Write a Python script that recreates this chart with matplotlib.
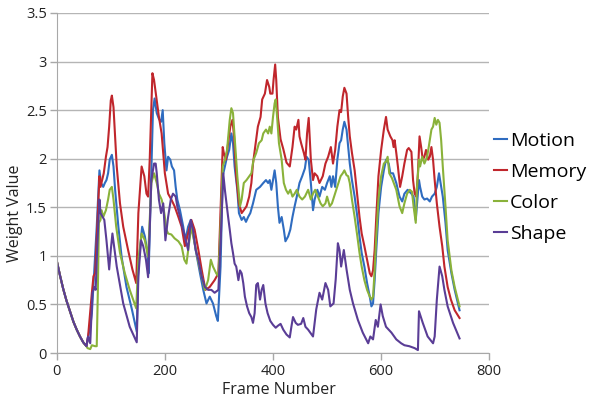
import numpy as np
import matplotlib.pyplot as plt

plt.rcParams['font.family'] = ['Open Sans', 'DejaVu Sans']

# shared start: all four series decay together from frame 0
start_frames = [0, 6, 12, 18, 25, 31, 37, 43, 49, 55]
start_values = [0.95, 0.80, 0.66, 0.54, 0.42, 0.32, 0.24, 0.17, 0.11, 0.07]

motion_frames = [58, 62, 65, 74, 79, 82, 86, 89, 92, 95, 98, 102, 105, 108, 114, 120, 129, 139, 148,
                 151, 158, 163, 168, 170, 174, 178, 181, 185, 189, 193, 196, 199, 203, 206, 210, 213,
                 217, 220, 223, 228, 234, 238, 243, 248, 252, 258, 265, 271, 277, 283, 289, 295, 298,
                 303, 307, 311, 315, 319, 323, 326, 329, 334, 337, 342, 346, 350, 354, 358, 363, 369,
                 376, 382, 387, 391, 394, 397, 400, 403, 406, 409, 412, 416, 420, 423, 428, 432, 436,
                 440, 444, 449, 454, 459, 462, 466, 470, 474, 477, 482, 486, 491, 496, 500, 505, 508,
                 511, 515, 519, 523, 526, 529, 532, 536, 539, 542, 546, 551, 556, 560, 564, 569, 574,
                 579, 582, 585, 588, 591, 595, 600, 605, 609, 614, 617, 622, 628, 634, 639, 643, 649,
                 656, 660, 664, 666, 670, 672, 676, 680, 685, 690, 694, 699, 703, 707, 710, 714, 719,
                 723, 730, 736, 745]
motion_values = [0.17, 0.27, 0.41, 1.30, 1.88, 1.75, 1.71, 1.75, 1.78, 1.85, 1.99, 2.04, 1.92, 1.68,
                 1.30, 0.99, 0.68, 0.45, 0.22,
                 0.89, 1.30, 1.20, 1.03, 0.82, 1.64, 2.50, 2.62, 2.47, 2.41, 2.38, 2.50, 2.16, 1.88,
                 2.02, 1.99, 1.92, 1.88, 1.71, 1.58, 1.47, 1.30, 1.16, 1.30, 1.37, 1.23, 1.03, 0.82,
                 0.65, 0.51, 0.58, 0.51, 0.38, 0.33,
                 0.89, 1.82, 1.92, 2.02, 2.09, 2.26, 2.16, 1.92, 1.68, 1.44, 1.37, 1.40, 1.35, 1.40,
                 1.44, 1.54, 1.68, 1.71, 1.75, 1.78, 1.75, 1.78, 1.68, 1.78, 1.88, 1.75, 1.51, 1.34,
                 1.40, 1.27, 1.15, 1.20, 1.27, 1.40, 1.51, 1.61, 1.75, 1.82, 1.90, 2.02, 1.99, 1.75,
                 1.47, 1.58, 1.68, 1.61, 1.71, 1.68, 1.75, 1.82, 1.71, 1.82, 1.71, 1.99, 2.16, 2.19,
                 2.30, 2.38, 2.30, 2.12, 1.95, 1.78, 1.61, 1.40, 1.20, 1.03, 0.89, 0.72, 0.58, 0.48,
                 0.51, 0.75, 1.06, 1.44, 1.71, 1.88, 1.99, 1.95, 1.85, 1.85, 1.75, 1.61, 1.56, 1.64,
                 1.68, 1.64, 1.61, 1.37, 1.51, 1.78, 1.71, 1.61, 1.58, 1.59, 1.56, 1.61, 1.64, 1.71,
                 1.85, 1.75, 1.61, 1.34, 1.06, 0.82, 0.65, 0.44]

memory_frames = [58, 65, 68, 71, 75, 79, 81, 84, 87, 91, 94, 97, 100, 102, 105, 108, 111, 117, 123,
                 132, 140, 147, 151, 157, 162, 166, 169, 172, 177, 180, 185, 189, 194, 200, 206, 212,
                 218, 225, 231, 237, 243, 249, 255, 262, 268, 275, 283, 292, 299, 303, 307, 309, 313,
                 317, 321, 325, 328, 332, 337, 342, 346, 351, 356, 360, 363, 368, 372, 377, 380, 385,
                 389, 393, 395, 399, 401, 404, 406, 409, 414, 419, 425, 431, 436, 440, 443, 447, 449,
                 452, 457, 460, 463, 466, 470, 474, 477, 482, 486, 492, 497, 502, 507, 511, 515, 519,
                 523, 526, 529, 532, 536, 539, 542, 546, 551, 556, 560, 564, 569, 574, 579, 582, 585,
                 588, 591, 595, 600, 605, 609, 612, 617, 621, 623, 625, 628, 631, 635, 639, 643, 648,
                 651, 656, 659, 662, 665, 668, 671, 674, 677, 680, 683, 687, 690, 693, 696, 699, 703,
                 708, 713, 717, 723, 729, 736, 745]
memory_values = [0.17, 0.62, 0.79, 0.82, 1.30, 1.82, 1.71, 1.78, 1.85, 2.02, 2.12, 2.33, 2.60, 2.65,
                 2.53, 2.23, 1.92, 1.54, 1.30, 1.06, 0.86, 0.72,
                 1.44, 1.92, 1.82, 1.64, 1.61, 1.99, 2.88, 2.81, 2.60, 2.43, 2.26, 1.85, 1.64, 1.58,
                 1.51, 1.40, 1.30, 1.10, 1.23, 1.37, 1.27, 1.06, 0.86, 0.65, 0.68, 0.75, 0.82,
                 1.47, 2.12, 2.06, 1.99, 2.16, 2.33, 2.40, 2.23, 1.82, 1.54, 1.44, 1.47, 1.51, 1.61,
                 1.75, 1.95, 2.16, 2.33, 2.43, 2.61, 2.67, 2.81, 2.74, 2.67, 2.67, 2.81, 2.97, 2.81,
                 2.43, 2.20, 2.10, 1.96, 1.92, 2.12, 2.33, 2.30, 2.40, 2.23, 2.16, 2.06, 1.99, 2.26,
                 2.42, 1.99, 1.78, 1.85, 1.82, 1.75, 1.82, 1.95, 2.02, 2.12, 1.95, 2.09, 2.33, 2.50,
                 2.48, 2.64, 2.73, 2.67, 2.43, 2.23, 2.06, 1.88, 1.61, 1.40, 1.23, 1.10, 0.96, 0.82,
                 0.79, 0.85, 1.06, 1.40, 1.82, 2.09, 2.30, 2.43, 2.30, 2.23, 2.19, 2.12, 2.19, 2.06,
                 1.92, 1.71, 1.82, 1.95, 2.09, 2.11, 2.07, 1.78, 1.64, 1.61, 1.85, 2.23, 2.12, 1.99,
                 2.02, 2.09, 1.99, 2.02, 2.12, 1.99, 1.78, 1.54, 1.30, 1.10, 0.89, 0.68, 0.55, 0.44,
                 0.36]

color_frames = [57, 62, 65, 71, 74, 76, 78, 81, 83, 86, 91, 95, 98, 102, 105, 110, 117, 126, 135, 147,
                151, 157, 163, 169, 175, 180, 185, 189, 194, 197, 200, 203, 206, 212, 218, 225, 231,
                236, 240, 244, 249, 254, 261, 268, 274, 280, 285, 289, 295, 299, 303, 307, 311, 315,
                320, 323, 326, 329, 334, 339, 342, 346, 351, 356, 360, 364, 369, 374, 379, 382, 387,
                391, 394, 397, 400, 403, 405, 408, 411, 416, 420, 424, 428, 432, 436, 440, 444, 449,
                454, 459, 465, 470, 474, 478, 483, 488, 492, 497, 500, 505, 509, 513, 517, 521, 525,
                529, 532, 536, 539, 542, 546, 551, 556, 560, 564, 569, 574, 579, 582, 585, 588, 591,
                595, 600, 605, 609, 612, 615, 620, 628, 634, 639, 643, 648, 653, 657, 660, 664, 666,
                670, 672, 676, 680, 685, 688, 693, 696, 699, 702, 705, 708, 711, 714, 719, 723, 730,
                736, 745]
color_values = [0.05, 0.04, 0.08, 0.07, 0.07, 0.62, 1.34, 1.37, 1.47, 1.40, 1.47, 1.58, 1.68, 1.71,
                1.58, 1.30, 1.03, 0.82, 0.65, 0.46,
                0.96, 1.23, 1.16, 0.99, 1.75, 1.85, 1.75, 1.64, 1.58, 1.51, 1.40, 1.27, 1.23, 1.22,
                1.18, 1.15, 1.10, 0.96, 0.92, 1.10, 1.30, 1.16, 0.96, 0.79, 0.65, 0.75, 0.96, 0.89,
                0.82, 0.79,
                1.30, 1.92, 1.99, 2.09, 2.40, 2.52, 2.47, 2.23, 1.82, 1.51, 1.58, 1.75, 1.78, 1.82,
                1.85, 1.99, 2.06, 2.16, 2.19, 2.26, 2.30, 2.26, 2.33, 2.26, 2.43, 2.57, 2.61, 2.40,
                2.16, 1.99, 1.75, 1.68, 1.64, 1.68, 1.61, 1.64, 1.68, 1.61, 1.58, 1.61, 1.68, 1.58,
                1.64, 1.68, 1.61, 1.54, 1.51, 1.54, 1.61, 1.51, 1.54, 1.61, 1.68, 1.75, 1.82, 1.85,
                1.88, 1.83, 1.82, 1.75, 1.58, 1.40, 1.20, 1.03, 0.89, 0.75, 0.65, 0.58, 0.55, 0.58,
                0.85, 1.20, 1.58, 1.82, 1.95, 1.97, 2.02, 1.85, 1.80, 1.68, 1.51, 1.44, 1.54, 1.64,
                1.68, 1.66, 1.51, 1.34, 1.68, 1.99, 1.92, 2.02, 1.95, 2.02, 2.12, 2.30, 2.33, 2.42,
                2.35, 2.40, 2.37, 2.19, 1.92, 1.51, 1.16, 0.85, 0.68, 0.48]

shape_frames = [58, 62, 66, 70, 72, 75, 79, 81, 85, 88, 92, 97, 100, 103, 111, 123, 135, 148,
                151, 156, 160, 165, 169, 175, 180, 183, 185, 189, 193, 197, 201, 206, 211, 215, 220,
                223, 228, 232, 237, 243, 248, 252, 257, 262, 268, 274, 280, 286, 292, 299,
                303, 308, 311, 314, 317, 320, 323, 326, 329, 332, 336, 339, 342, 345, 348, 352, 356,
                360, 363, 366, 369, 372, 376, 379, 382, 386, 390, 395, 400, 405, 409, 414, 419, 425,
                431, 434, 437, 442, 446, 452, 456, 460, 465, 474, 480, 486, 491, 497, 502, 506, 512,
                516, 520, 523, 526, 531, 536, 542, 548, 557, 566, 576, 580, 585, 590, 594, 599, 603,
                609, 619, 628, 637, 643, 652, 662, 668, 670, 677, 686, 696, 699, 703, 708, 713, 717,
                723, 733, 745]
shape_values = [0.17, 0.10, 0.62, 0.68, 0.65, 1.10, 1.58, 1.44, 1.40, 1.37, 1.16, 0.86, 1.06, 1.23,
                0.89, 0.51, 0.27, 0.11,
                0.79, 1.16, 1.10, 0.96, 0.78, 1.78, 1.95, 1.95, 1.85, 1.58, 1.44, 1.54, 1.16, 1.40,
                1.58, 1.64, 1.61, 1.51, 1.40, 1.30, 1.20, 1.06, 1.37, 1.27, 1.06, 0.96, 0.79, 0.68,
                0.65, 0.65, 0.62, 0.65,
                1.13, 1.85, 1.68, 1.54, 1.40, 1.27, 1.13, 1.03, 0.92, 0.89, 0.75, 0.85, 0.82, 0.72,
                0.58, 0.48, 0.41, 0.37, 0.31, 0.41, 0.70, 0.72, 0.55, 0.65, 0.70, 0.51, 0.41, 0.33,
                0.29, 0.26, 0.28, 0.30, 0.24, 0.19, 0.16, 0.27, 0.37, 0.31, 0.29, 0.30, 0.36, 0.27,
                0.24, 0.17, 0.45, 0.62, 0.55, 0.72, 0.65, 0.48, 0.51, 0.76, 1.13, 1.06, 0.89, 1.06,
                0.86, 0.65, 0.51, 0.34, 0.21, 0.10, 0.17, 0.14, 0.34, 0.27, 0.50, 0.38, 0.27, 0.21,
                0.14, 0.10, 0.08, 0.07, 0.05, 0.03, 0.43, 0.31, 0.17, 0.10, 0.17, 0.55, 0.89, 0.79,
                0.65, 0.48, 0.31, 0.15]

series = [
    ('Motion', motion_frames, motion_values, '#2f6cc0'),
    ('Memory', memory_frames, memory_values, '#c0262c'),
    ('Color', color_frames, color_values, '#8ab23a'),
    ('Shape', shape_frames, shape_values, '#5a3d96'),
]

fig = plt.figure(figsize=(5.89, 4.01), dpi=100)
ax = fig.add_axes([0.0963, 0.1197, 0.7344, 0.8479])

for name, fr, vals, col in series:
    x = np.array(start_frames + fr)
    y = np.array(start_values + vals)
    ax.plot(x, y, color=col, lw=1.5, label=name)

ax.set_xlim(0, 800)
ax.set_ylim(0, 3.5)
ax.set_xticks([0, 200, 400, 600, 800])
ax.set_yticks([0, 0.5, 1, 1.5, 2, 2.5, 3, 3.5])
ax.set_yticklabels(['0', '0.5', '1', '1.5', '2', '2.5', '3', '3.5'])
ax.yaxis.grid(True, color='#b5b5b5', lw=1)
ax.set_axisbelow(True)
for s in ['top', 'right']:
    ax.spines[s].set_visible(False)
for s in ['left', 'bottom']:
    ax.spines[s].set_color('#a8a8a8')
ax.tick_params(axis='both', length=5, color='#a8a8a8', width=1, labelsize=10.5, labelcolor='#222222')
ax.tick_params(axis='y', pad=2)
ax.tick_params(axis='x', pad=3)

ax.set_xlabel('Frame Number', fontsize=11.5, color='#222222')
ax.set_ylabel('Weight Value', fontsize=11.5, color='#222222')
ax.xaxis.set_label_coords(0.513, -0.085)
ax.yaxis.set_label_coords(-0.078, 0.41)

fig.legend(loc='center left', bbox_to_anchor=(0.838, 0.533), frameon=False, fontsize=14,
           handlelength=0.7, handletextpad=0.15, labelspacing=0.66, borderpad=0, borderaxespad=0)

plt.savefig('out.png', dpi=100)
